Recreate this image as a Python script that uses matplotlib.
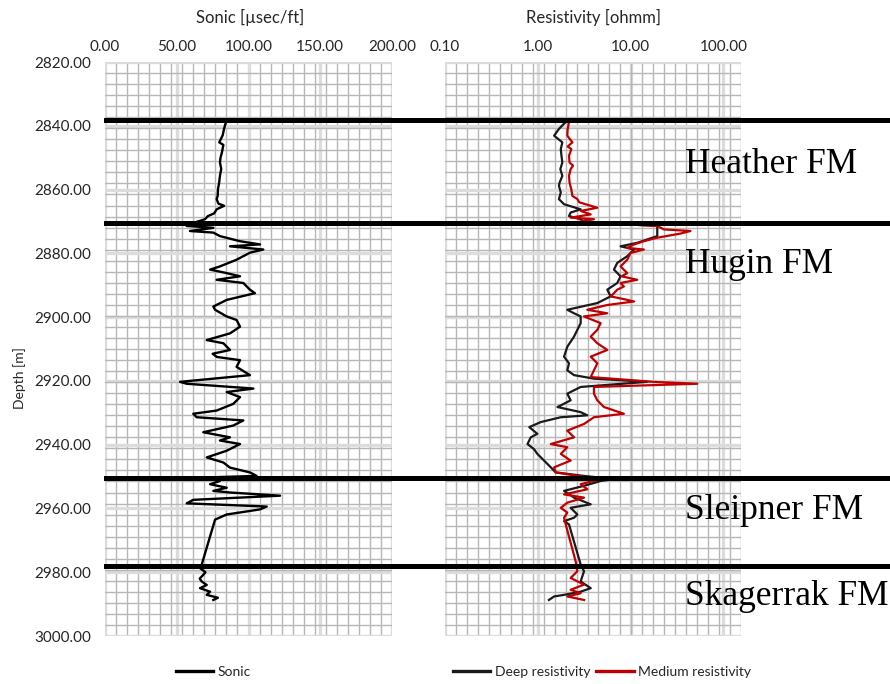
import numpy as np
import matplotlib
matplotlib.use('Agg')
import matplotlib.pyplot as plt
from matplotlib.lines import Line2D
from matplotlib.ticker import NullFormatter
from matplotlib.transforms import blended_transform_factory

# formation tops [m]
form_names = ['Heather FM', 'Hugin FM', 'Sleipner FM', 'Skagerrak FM']
form_tops = [2838.2, 2870.4, 2950.6, 2977.9]
form_label_depth = [2854.7, 2886.3, 2963.4, 2990.3]

# sonic log [usec/ft]
sonic_depth = [2838.8, 2840.9, 2843.0, 2845.2, 2846.0, 2848.3, 2850.0, 2851.5, 2853.5, 2855.7,
               2858.0, 2859.9, 2862.0, 2863.0, 2864.4, 2865.1, 2866.2, 2867.5, 2868.3, 2869.3,
               2870.4, 2871.4, 2872.0, 2873.0, 2873.5, 2874.6, 2876.2, 2877.2, 2877.8, 2878.8,
               2879.8, 2882.0, 2884.1, 2885.1, 2886.2, 2887.2, 2888.3, 2889.3, 2891.4, 2892.5,
               2894.6, 2896.7, 2897.7, 2899.8, 2900.9, 2903.0, 2905.1, 2907.2, 2908.2, 2910.3,
               2911.5, 2912.5, 2913.5, 2915.6, 2918.2, 2920.3, 2920.9, 2922.4, 2923.5, 2925.1,
               2927.2, 2929.3, 2930.3, 2931.4, 2932.4, 2934.0, 2936.1, 2937.7, 2938.7, 2939.8,
               2941.9, 2944.0, 2945.6, 2947.2, 2948.7, 2949.8, 2950.3, 2951.4, 2952.4, 2953.5,
               2954.5, 2955.0, 2956.0, 2957.3, 2958.4, 2959.4, 2960.3, 2961.9, 2963.5, 2977.6,
               2978.7, 2980.0, 2980.8, 2982.0, 2982.9, 2984.0, 2985.0, 2986.1, 2987.1, 2988.0,
               2988.7]
sonic = [84.3, 83.0, 82.0, 79.6, 82.5, 81.5, 80.5, 80.1, 81.0, 80.1,
         79.5, 78.7, 78.5, 77.8, 79.0, 83.0, 77.8, 76.0, 71.8, 69.7,
         62.0, 56.9, 75.5, 59.2, 75.5, 80.1, 94.1, 108.0, 87.1, 110.3,
         101.0, 91.7, 80.1, 73.2, 84.8, 94.1, 77.8, 96.4, 101.0, 104.5,
         84.8, 75.5, 76.7, 84.8, 91.7, 94.1, 87.1, 70.9, 82.5, 87.1,
         75.0, 78.0, 94.1, 91.7, 101.0, 52.3, 56.9, 103.4, 84.8, 94.1,
         89.4, 77.8, 61.5, 63.9, 96.4, 89.4, 68.5, 87.1, 80.1, 94.1,
         84.8, 70.9, 82.5, 87.1, 101.0, 105.7, 68.5, 80.1, 73.2, 84.8,
         75.5, 87.1, 122.0, 61.5, 56.9, 112.7, 108.0, 84.8, 76.7, 67.4,
         66.2, 70.0, 68.5, 66.0, 67.4, 70.9, 66.2, 73.2, 70.9, 78.7,
         75.5]

# deep resistivity [ohmm]
deep_depth = [2838.8, 2841.0, 2843.1, 2845.2, 2847.3, 2849.4, 2851.5, 2853.6, 2855.7, 2857.8,
              2858.8, 2860.9, 2863.0, 2864.6, 2866.2, 2867.2, 2868.3, 2869.3, 2870.2, 2871.4,
              2874.6, 2876.7, 2877.8, 2878.8, 2880.9, 2883.0, 2885.1, 2887.2, 2889.3, 2891.4,
              2893.5, 2895.6, 2897.7, 2898.8, 2899.8, 2901.9, 2904.0, 2906.1, 2909.3, 2912.4,
              2914.5, 2916.7, 2918.2, 2919.3, 2920.3, 2921.9, 2924.0, 2926.1, 2928.2, 2929.8,
              2930.8, 2931.4, 2932.9, 2934.5, 2936.6, 2937.7, 2939.8, 2941.4, 2942.9, 2945.0,
              2947.1, 2948.7, 2949.8, 2950.8, 2951.4, 2952.9, 2954.5, 2956.6, 2958.7, 2959.8,
              2961.9, 2962.9, 2964.0, 2965.0, 2977.6, 2979.7, 2982.9, 2985.0, 2986.1, 2987.1,
              2987.6, 2988.7]
deep_res = [2.00, 1.69, 1.50, 1.84, 1.77, 1.80, 1.84, 1.75, 1.84, 1.72,
            1.69, 1.77, 1.69, 1.92, 2.90, 2.26, 2.17, 2.90, 3.20, 19.4,
            19.4, 11.8, 7.80, 10.9, 9.21, 7.19, 6.62, 7.80, 7.19, 5.61,
            6.10, 4.38, 2.08, 2.46, 2.90, 2.90, 2.67, 2.46, 2.08, 1.92,
            2.17, 2.08, 2.46, 4.03, 15.1, 2.90, 2.08, 2.26, 1.63, 2.90,
            3.42, 1.77, 1.08, 0.81, 0.99, 0.84, 0.775, 0.91, 0.99, 1.17,
            1.38, 1.56, 3.15, 6.62, 4.76, 3.15, 1.92, 2.46, 3.72, 2.26,
            2.67, 2.46, 1.92, 2.17, 2.90, 3.15, 2.90, 3.72, 2.90, 1.92,
            1.50, 1.32]

# medium resistivity [ohmm]
med_depth = [2838.8, 2841.0, 2843.1, 2845.2, 2846.5, 2847.3, 2849.4, 2851.5, 2852.5, 2853.6,
             2855.7, 2857.8, 2860.0, 2862.0, 2863.0, 2864.0, 2865.7, 2866.7, 2867.8, 2868.8,
             2869.3, 2870.2, 2871.4, 2872.5, 2873.0, 2873.8, 2875.1, 2876.2, 2877.2, 2878.3,
             2878.8, 2879.9, 2882.0, 2884.1, 2886.2, 2887.2, 2888.3, 2889.3, 2890.4, 2891.4,
             2892.5, 2893.5, 2894.6, 2895.1, 2896.2, 2897.7, 2898.8, 2899.8, 2901.9, 2904.0,
             2906.1, 2908.2, 2910.3, 2912.4, 2914.5, 2916.7, 2918.8, 2920.3, 2920.9, 2921.9,
             2924.0, 2926.1, 2928.2, 2930.3, 2931.4, 2933.5, 2935.6, 2937.7, 2939.8, 2940.8,
             2942.9, 2945.0, 2947.1, 2948.7, 2950.3, 2950.8, 2952.4, 2954.0, 2955.6, 2956.6,
             2958.2, 2959.8, 2961.3, 2962.9, 2965.0, 2976.6, 2979.7, 2981.8, 2983.9, 2985.5,
             2986.6, 2987.6, 2988.7]
med_res = [2.17, 2.10, 2.08, 2.36, 2.10, 2.30, 2.17, 2.20, 2.40, 2.26,
           2.17, 2.20, 2.30, 2.36, 2.67, 2.80, 4.38, 2.90, 3.72, 2.26,
           4.03, 2.70, 19.4, 22.8, 44.2, 34.5, 19.4, 13.9, 10.9, 9.21,
           13.9, 10.0, 9.21, 7.80, 9.21, 8.00, 11.8, 7.80, 8.47, 7.19,
           6.62, 6.10, 9.21, 10.9, 5.61, 3.42, 5.61, 3.15, 4.76, 4.38,
           3.72, 4.38, 5.61, 3.72, 4.38, 4.03, 3.72, 17.8, 52.4, 4.03,
           4.03, 4.38, 5.17, 8.47, 4.03, 3.15, 2.08, 2.46, 1.38, 2.08,
           1.77, 2.26, 1.50, 1.56, 3.42, 4.76, 2.90, 3.42, 1.92, 3.15,
           2.08, 1.77, 2.08, 1.92, 2.00, 2.56, 2.67, 2.26, 3.15, 2.26,
           2.90, 2.08, 3.15]

W, H = 890, 684
ui_font = 'Lato'
txt_col = '#262626'

fig = plt.figure(figsize=(W / 100, H / 100), dpi=100)
ax1 = fig.add_axes([105 / W, 1 - 636 / H, 287 / W, 574 / H])
ax2 = fig.add_axes([445 / W, 1 - 636 / H, 296 / W, 574 / H])


def style_axis(ax):
    ax.set_ylim(3000, 2820)
    ax.set_yticks(np.arange(2820, 3001, 20))
    ax.set_yticks(np.linspace(2820, 3000, 53), minor=True)
    ax.grid(which='major', color='#dcdcdc', lw=2.4)
    ax.grid(which='minor', color='#b7b7b7', lw=1.0)
    ax.set_axisbelow(True)
    for s in ax.spines.values():
        s.set_visible(False)
    ax.xaxis.tick_top()
    ax.tick_params(which='both', length=0, labelcolor=txt_col, labelsize=11)
    ax.tick_params(axis='x', pad=6)
    ax.tick_params(axis='y', pad=10)
    for lab in ax.get_xticklabels() + ax.get_yticklabels():
        lab.set_fontfamily(ui_font)


# sonic track
ax1.set_xlim(0, 200)
ax1.set_xticks(np.arange(0, 201, 50))
ax1.set_xticks(np.linspace(0, 200, 27), minor=True)
ax1.set_xticklabels(['%.2f' % v for v in np.arange(0, 201, 50)])
ax1.set_yticklabels(['%.2f' % v for v in np.arange(2820, 3001, 20)])
style_axis(ax1)
ax1.plot(sonic, sonic_depth, color='k', lw=1.7, label='Sonic')

# resistivity track
rmax = 155
ax2.set_xscale('log')
ax2.set_xlim(0.1, rmax)
ax2.set_xticks([0.1, 1, 10, 100])
ax2.set_xticks(10 ** np.linspace(-1, np.log10(rmax), 28), minor=True)
ax2.xaxis.set_minor_formatter(NullFormatter())
ax2.set_xticklabels(['0.10', '1.00', '10.00', '100.00'])
style_axis(ax2)
ax2.tick_params(axis='y', labelleft=False)
ax2.plot(deep_res, deep_depth, color='#1a1a1a', lw=1.6, label='Deep resistivity')
ax2.plot(med_res, med_depth, color='#c00000', lw=1.6, label='Medium resistivity')

# titles
fig.text(250 / W, 1 - 17 / H, 'Sonic [µsec/ft]', ha='center', va='center',
         fontsize=12, color=txt_col, family=ui_font)
fig.text(593 / W, 1 - 17 / H, 'Resistivity [ohmm]', ha='center', va='center',
         fontsize=12, color=txt_col, family=ui_font)
fig.text(20 / W, 1 - 378 / H, 'Depth [m]', rotation=90, ha='center', va='center',
         fontsize=10, color=txt_col, family=ui_font)

# formation tops across both tracks
trans = blended_transform_factory(fig.transFigure, ax1.transData)
for d in form_tops:
    fig.add_artist(Line2D([106 / W, 1.0], [d, d], transform=trans,
                          color='k', lw=3.6, zorder=5))
for name, d in zip(form_names, form_label_depth):
    fig.text(685 / W, d, name, transform=trans, ha='left', va='baseline',
             fontsize=25.5, family='Liberation Serif', color='k', zorder=6)

# legends
leg_kw = dict(loc='center', frameon=False, handlelength=2.7, handletextpad=0.3,
              columnspacing=0.45, bbox_transform=fig.transFigure,
              prop={'family': ui_font, 'size': 10})
leg1 = ax1.legend(bbox_to_anchor=(213 / W, 1 - 672 / H), **leg_kw)
leg2 = ax2.legend(bbox_to_anchor=(602 / W, 1 - 672 / H), ncol=2, **leg_kw)
for leg in (leg1, leg2):
    for t in leg.get_texts():
        t.set_color(txt_col)
    for ln in leg.get_lines():
        ln.set_linewidth(2.4)

fig.savefig('out.png', dpi=100)
